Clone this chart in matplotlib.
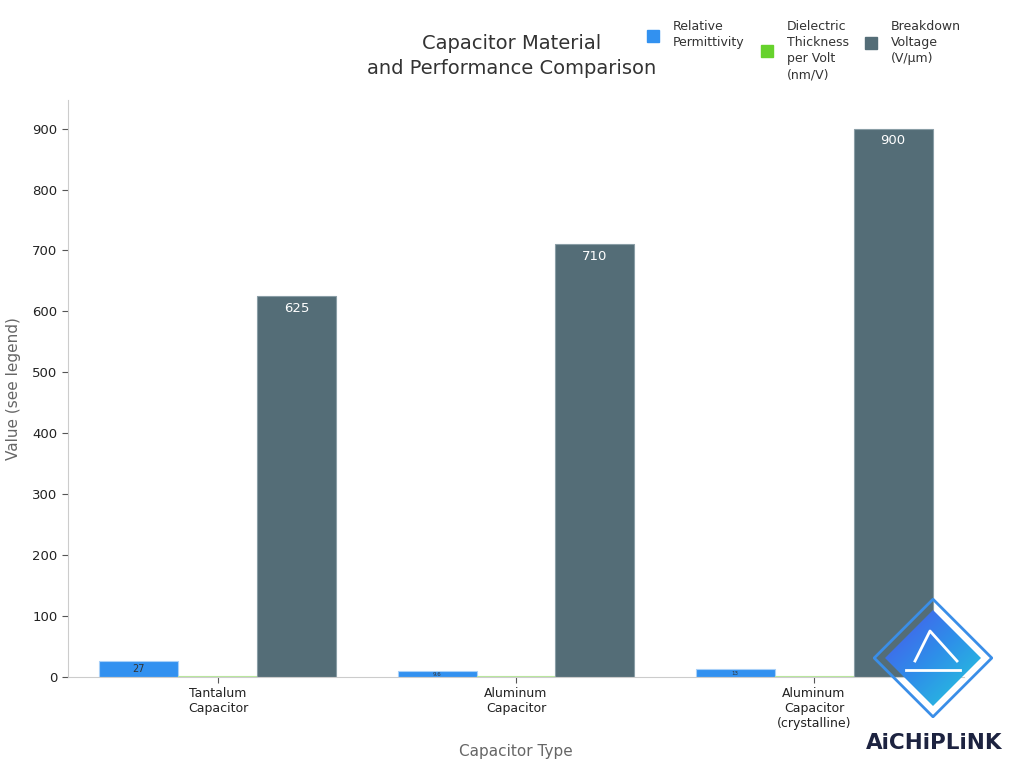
import numpy as np
import matplotlib.pyplot as plt
from matplotlib.patches import Rectangle, Polygon
from matplotlib.colors import LinearSegmentedColormap

categories = ['Tantalum\nCapacitor', 'Aluminum\nCapacitor', 'Aluminum\nCapacitor\n(crystalline)']
series_names = ['Relative\nPermittivity', 'Dielectric\nThickness\nper Volt\n(nm/V)', 'Breakdown\nVoltage\n(V/µm)']
permittivity = [27, 9.6, 13]
thickness = [1.7, 1.4, 1.2]
breakdown = [625, 710, 900]
colors = ['#3291f0', '#66d22c', '#546d77']
edges = ['#a8d0f8', '#b8e89c', '#8a9ea6']

W, H = 1024, 768
fig = plt.figure(figsize=(W / 100, H / 100), dpi=100)
ax = fig.add_axes([68 / W, 1 - 677 / H, (964 - 68) / W, (677 - 100) / H])

x = np.arange(len(categories))
w = 0.265
all_vals = [permittivity, thickness, breakdown]
for i, (vals, name, c, ec) in enumerate(zip(all_vals, series_names, colors, edges)):
    bars = ax.bar(x + (i - 1) * w, vals, w, color=c, label=name,
                  edgecolor=ec, linewidth=0.8)
    for b, v in zip(bars, vals):
        h = b.get_height()
        if h > 100:
            ax.text(b.get_x() + b.get_width() / 2, h - 9, f'{v:g}', ha='center', va='top',
                    color='white', fontsize=9.5)
        elif h > 5:
            fs = 7 if h > 20 else 4
            ax.text(b.get_x() + b.get_width() / 2, h / 2, f'{v:g}', ha='center', va='center',
                    color='#333333', fontsize=fs)

ax.set_xlim(-0.503, 2.503)
ax.set_ylim(0, 947)
ax.set_xticks(x)
ax.set_xticklabels(categories, fontsize=9, color='#222222')
ax.set_yticks(range(0, 901, 100))
ax.tick_params(axis='y', labelsize=9.5, colors='#222222', length=4, color='#555555')
ax.tick_params(axis='x', length=4, color='#555555')
for s in ['top', 'right']:
    ax.spines[s].set_visible(False)
for s in ['left', 'bottom']:
    ax.spines[s].set_color('#cccccc')

ax.set_ylabel('Value (see legend)', fontsize=11, color='#666666', labelpad=8)
ax.set_xlabel('Capacitor Type', fontsize=11, color='#666666', labelpad=10)

fig.text(0.5, 1 - 56 / H, 'Capacitor Material\nand Performance Comparison', ha='center', va='center',
         fontsize=14, color='#333333', linespacing=1.4)

# legend: labels top-aligned, square marker centred on each label block
leg_x = [647, 761, 865]
for name, c, lx in zip(series_names, colors, leg_x):
    n = name.count('\n') + 1
    top = 20
    mid = top + n * 15.5 / 2
    fig.patches.append(Rectangle((lx / W, 1 - (mid + 6) / H), 12 / W, 12 / H,
                                 transform=fig.transFigure, color=c))
    fig.text((lx + 26) / W, 1 - top / H, name, ha='left', va='top', fontsize=9,
             color='#333333', linespacing=1.3)

# watermark logo
lax = fig.add_axes([873 / W, 1 - 718 / H, 120 / W, 120 / H])
lax.set_xlim(-1, 1)
lax.set_ylim(-1, 1)
lax.axis('off')
gx, gy = np.meshgrid(np.linspace(0, 1, 100), np.linspace(0, 1, 100))
grad = (gx + gy) / 2
cmap = LinearSegmentedColormap.from_list('logo', ['#5146ee', '#2e8fe9', '#22dcd8'])
img = lax.imshow(grad, extent=[-1, 1, -1, 1], cmap=cmap, origin='upper',
                 interpolation='bilinear', zorder=1)
inner = Polygon([[0, 0.8], [0.8, 0], [0, -0.8], [-0.8, 0]], closed=True,
                transform=lax.transData, facecolor='none', edgecolor='none')
lax.add_patch(inner)
img.set_clip_path(inner)
outer = Polygon([[0, 0.98], [0.98, 0], [0, -0.98], [-0.98, 0]], closed=True,
                facecolor='none', edgecolor='#3a8ee8', linewidth=2, joinstyle='round', zorder=2)
lax.add_patch(outer)
lax.plot([-0.3, -0.05, 0.4], [-0.05, 0.45, -0.05], color='white', lw=2, zorder=3)
lax.plot([-0.45, 0.45], [-0.2, -0.2], color='white', lw=2, zorder=3)

fig.text(934 / W, 1 - 743 / H, 'AiCHiPLiNK', ha='center', va='center', fontsize=15.5, fontweight='bold',
         color='#1d2340')

fig.savefig('out.png', dpi=100)
